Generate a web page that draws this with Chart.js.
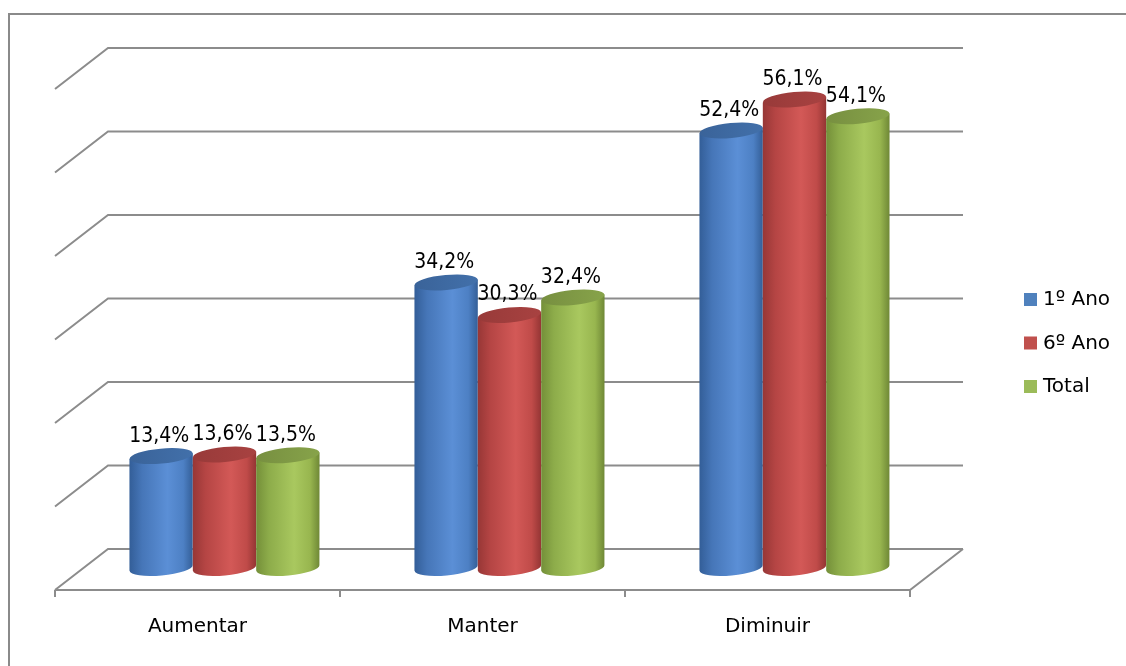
<!DOCTYPE html>
<html>
<head>
<meta charset="utf-8">
<script src="https://cdn.jsdelivr.net/npm/chart.js@4/dist/chart.umd.min.js"></script>
<style>
  html, body { margin: 0; padding: 0; background: #fff; }
  #wrap { width: 1126px; height: 666px; }
</style>
</head>
<body>
<div id="wrap"><canvas id="chart" width="1126" height="666"></canvas></div>
<script>
const categories = ['Aumentar', 'Manter', 'Diminuir'];
const seriesNames = ['1º Ano', '6º Ano', 'Total'];
const ano1 = [13.4, 34.2, 52.4];
const ano6 = [13.6, 30.3, 56.1];
const total = [13.5, 32.4, 54.1];
const gridValues = [0, 10, 20, 30, 40, 50, 60];

// colour sets per series: body gradient stops, top cap, legend swatch
const palettes = [
  { stops: ['#335e98', '#4676b8', '#5b8fd6', '#4d80c4', '#345f98'], top: ['#3a6399', '#4270aa'], swatch: '#4f81bd' },
  { stops: ['#973736', '#b54544', '#d35957', '#c04b49', '#943534'], top: ['#983a39', '#a84241'], swatch: '#c0504d' },
  { stops: ['#748f39', '#8dac4a', '#a9c85f', '#98b64f', '#6f8836'], top: ['#778f40', '#87a34a'], swatch: '#9bbb59' }
];

const FRONT = { dx: -27, dy: 22 };
const BACK = { dx: 26, dy: -19 };
const GRID = '#8c8c8c';
const FONT = '20px "DejaVu Sans", Verdana, sans-serif';
const VALUE_FONT = '21px "DejaVu Sans Condensed", "DejaVu Sans", sans-serif';
const TILT = -0.09;

const wallPlugin = {
  id: 'walls',
  beforeDatasetsDraw(chart) {
    const { ctx, chartArea: a, scales } = chart;
    const y = scales.y;
    ctx.save();
    // outer frame
    ctx.strokeStyle = '#8a8a8a';
    ctx.lineWidth = 2;
    ctx.strokeRect(9, 14, 1300, 900);

    ctx.strokeStyle = GRID;
    ctx.lineWidth = 2;
    const bl = a.left + BACK.dx, br = a.right + BACK.dx;
    const fl = a.left + FRONT.dx, fr = a.right + FRONT.dx;
    gridValues.forEach(v => {
      const by = y.getPixelForValue(v) + BACK.dy;
      const fy = y.getPixelForValue(v) + FRONT.dy;
      ctx.beginPath();
      ctx.moveTo(fl, fy);
      ctx.lineTo(bl, by);
      ctx.lineTo(br, by);
      ctx.stroke();
    });
    // floor front edge and right side
    const by0 = y.getPixelForValue(0) + BACK.dy;
    const fy0 = y.getPixelForValue(0) + FRONT.dy;
    ctx.beginPath();
    ctx.moveTo(br, by0);
    ctx.lineTo(fr, fy0);
    ctx.lineTo(fl, fy0);
    ctx.stroke();
    // category tick marks
    const x = scales.x;
    const step = x.getPixelForValue(1) - x.getPixelForValue(0);
    for (let i = 0; i <= categories.length; i++) {
      const tx = x.getPixelForValue(0) - step / 2 + i * step + FRONT.dx;
      ctx.beginPath();
      ctx.moveTo(tx, fy0);
      ctx.lineTo(tx, fy0 + 7);
      ctx.stroke();
    }
    // category labels on the front edge
    ctx.fillStyle = '#000';
    ctx.font = FONT;
    ctx.textAlign = 'center';
    ctx.textBaseline = 'middle';
    categories.forEach((c, i) => {
      ctx.fillText(c, x.getPixelForValue(i) + FRONT.dx, fy0 + 37);
    });
    ctx.restore();
  }
};

const cylinderPlugin = {
  id: 'cylinders',
  afterDatasetsDraw(chart) {
    const { ctx } = chart;
    ctx.save();
    chart.data.datasets.forEach((ds, di) => {
      const meta = chart.getDatasetMeta(di);
      const pal = palettes[di];
      meta.data.forEach(bar => {
        const l = bar.x - bar.width / 2, r = bar.x + bar.width / 2;
        const rx = bar.width / 2, ry = 7.5;
        const grad = ctx.createLinearGradient(l, 0, r, 0);
        [0, 0.2, 0.6, 0.85, 1].forEach((s, k) => grad.addColorStop(s, pal.stops[k]));
        ctx.fillStyle = grad;
        ctx.beginPath();
        ctx.moveTo(l, bar.y + rx * Math.sin(-TILT));
        ctx.lineTo(l, bar.base + rx * Math.sin(-TILT));
        ctx.ellipse(bar.x, bar.base, rx, ry, TILT, Math.PI, 0, true);
        ctx.lineTo(r, bar.y - rx * Math.sin(-TILT));
        ctx.closePath();
        ctx.fill();
        const capGrad = ctx.createLinearGradient(l, 0, r, 0);
        capGrad.addColorStop(0, pal.top[0]);
        capGrad.addColorStop(1, pal.top[1]);
        ctx.fillStyle = capGrad;
        ctx.beginPath();
        ctx.ellipse(bar.x, bar.y, rx, ry, TILT, 0, Math.PI * 2);
        ctx.fill();
      });
    });
    // value labels
    ctx.fillStyle = '#000';
    ctx.font = VALUE_FONT;
    ctx.textAlign = 'center';
    ctx.textBaseline = 'middle';
    chart.data.datasets.forEach((ds, di) => {
      chart.getDatasetMeta(di).data.forEach((bar, i) => {
        ctx.fillText(ds.data[i].toFixed(1).replace('.', ',') + '%', bar.x - 2, bar.y - 20);
      });
    });
    ctx.restore();
  }
};

const legendPlugin = {
  id: 'sideLegend',
  afterDraw(chart) {
    const { ctx } = chart;
    ctx.save();
    ctx.font = FONT;
    ctx.textBaseline = 'middle';
    ctx.textAlign = 'left';
    seriesNames.forEach((name, i) => {
      const cy = 299 + i * 43.5;
      ctx.fillStyle = palettes[i].swatch;
      ctx.fillRect(1024, cy - 6, 13, 13);
      ctx.fillStyle = '#000';
      ctx.fillText(name, 1043, cy + 1);
    });
    ctx.restore();
  }
};

new Chart(document.getElementById('chart'), {
  type: 'bar',
  data: {
    labels: categories,
    datasets: [ano1, ano6, total].map((d, i) => ({
      label: seriesNames[i],
      data: d,
      backgroundColor: 'rgba(0,0,0,0)',
      borderWidth: 0,
      categoryPercentage: 0.667,
      barPercentage: 1
    }))
  },
  options: {
    responsive: false,
    animation: false,
    layout: { padding: { left: 82, right: 189, top: 67, bottom: 98 } },
    scales: {
      x: { display: false },
      y: { display: false, min: 0, max: 60 }
    },
    plugins: {
      legend: { display: false },
      tooltip: { enabled: false }
    }
  },
  plugins: [wallPlugin, cylinderPlugin, legendPlugin]
});
</script>
</body>
</html>
